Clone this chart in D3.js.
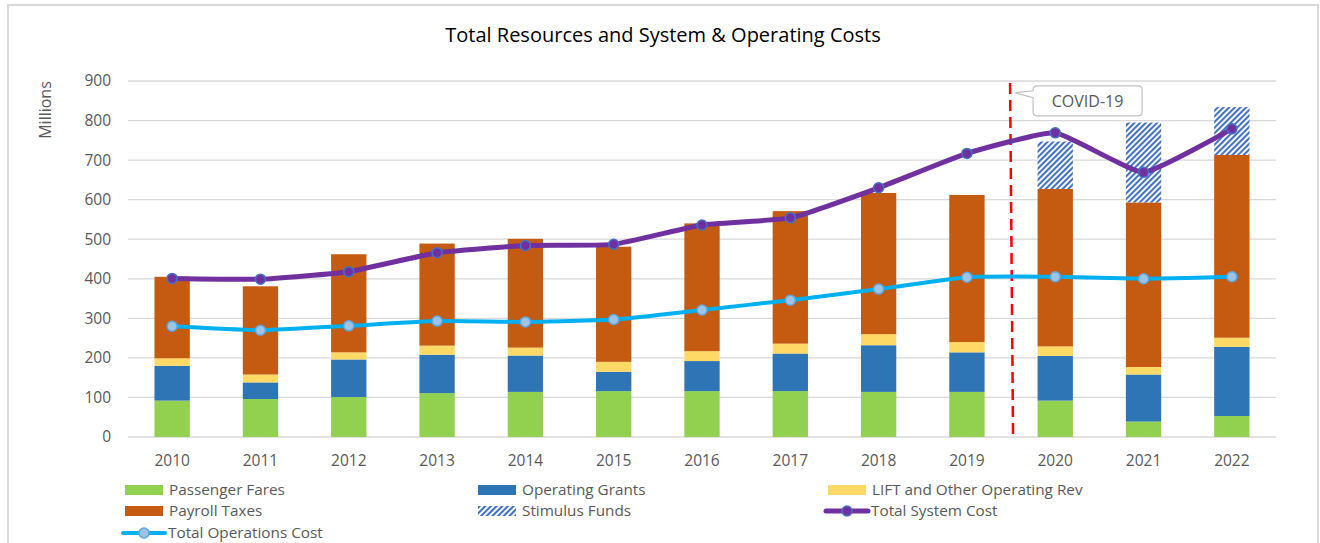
<!DOCTYPE html>
<html>
<head>
<meta charset="utf-8">
<script src="https://cdn.jsdelivr.net/npm/d3@7"></script>
<style>
    body { margin: 0; background: #fff; }
    text { font-family: "Open Sans", Lato, sans-serif; }
</style>
</head>
<body>
<div id="chart"></div>
<script>
var years = ["2010", "2011", "2012", "2013", "2014", "2015", "2016", "2017", "2018", "2019", "2020", "2021", "2022"];
var passengerFares = [92, 96, 101, 111, 114, 116, 116, 116, 114, 114, 92, 39, 53];
var operatingGrants = [88, 42, 95, 97, 92, 49, 76, 95, 118, 100, 113, 119, 175];
var liftOther = [19, 20, 18, 23, 20, 25, 25, 25, 28, 26, 24, 19, 23];
var payrollTaxes = [206, 223, 248, 258, 275, 291, 323, 335, 357, 372, 398, 416, 462];
var stimulusFunds = [0, 0, 0, 0, 0, 0, 0, 0, 0, 0, 120, 202, 121];
var totalSystemCost = [401, 399, 418, 466, 484, 487, 536, 554, 630, 717, 769, 669, 779];
var totalOperationsCost = [280, 270, 281, 293, 291, 297, 321, 346, 374, 404, 405, 400, 405];
var yTicks = [0, 100, 200, 300, 400, 500, 600, 700, 800, 900];

var svgWidth = 1320;
var svgHeight = 543;

var svg = d3.select("#chart")
    .append("svg")
    .attr("width", svgWidth)
    .attr("height", svgHeight);

var defs = svg.append("defs");
var pattern = defs.append("pattern")
    .attr("id", "stimulus")
    .attr("patternUnits", "userSpaceOnUse")
    .attr("width", 4)
    .attr("height", 4)
    .attr("patternTransform", "rotate(45)");
pattern.append("rect")
    .attr("width", 4)
    .attr("height", 4)
    .attr("fill", "#fff");
pattern.append("rect")
    .attr("width", 2.1)
    .attr("height", 4)
    .attr("fill", "#4472C4");

// chart frame
svg.append("rect")
    .attr("x", 8)
    .attr("y", 5)
    .attr("width", 1310)
    .attr("height", 560)
    .attr("fill", "#fff")
    .attr("stroke", "#D9D9D9")
    .attr("stroke-width", 2);

svg.append("text")
    .attr("x", 663)
    .attr("y", 42)
    .attr("text-anchor", "middle")
    .attr("font-size", 20)
    .attr("fill", "#000")
    .text("Total Resources and System & Operating Costs");

var x = d3.scaleBand()
    .domain(years)
    .range([128, 1276])
    .paddingInner(0.6)
    .paddingOuter(0.3);

var y = d3.scaleLinear()
    .domain([0, 900])
    .range([437, 81]);

// gridlines
svg.append("g")
    .selectAll("line")
    .data(yTicks)
    .enter()
    .append("line")
    .attr("x1", 128)
    .attr("x2", 1276)
    .attr("y1", d => y(d))
    .attr("y2", d => y(d))
    .attr("stroke", "#D9D9D9")
    .attr("stroke-width", 1.3);

var leftAxis = d3.axisLeft(y).tickValues(yTicks).tickSize(0).tickPadding(0);
var yAxis = svg.append("g")
    .attr("transform", "translate(111, 0)")
    .call(leftAxis);
yAxis.select(".domain").remove();
yAxis.selectAll("text")
    .attr("font-size", 15.5)
    .attr("fill", "#595959")
    .attr("font-family", "'Open Sans', sans-serif");

var bottomAxis = d3.axisBottom(x).tickSize(0).tickPadding(0);
var xAxis = svg.append("g")
    .attr("transform", "translate(0, 455)")
    .call(bottomAxis);
xAxis.select(".domain").remove();
xAxis.selectAll("text")
    .attr("font-size", 15.5)
    .attr("fill", "#595959")
    .attr("font-family", "'Open Sans', sans-serif");

svg.append("text")
    .attr("transform", "translate(51, 110) rotate(-90)")
    .attr("text-anchor", "middle")
    .attr("font-size", 16)
    .attr("fill", "#595959")
    .text("Millions");

// stacked bars
var keys = ["fares", "grants", "lift", "payroll", "stimulus"];
var colors = {
    fares: "#92D050",
    grants: "#2E75B6",
    lift: "#FFD966",
    payroll: "#C55A11",
    stimulus: "url(#stimulus)"
};
var table = years.map((yr, i) => ({
    year: yr,
    fares: passengerFares[i],
    grants: operatingGrants[i],
    lift: liftOther[i],
    payroll: payrollTaxes[i],
    stimulus: stimulusFunds[i]
}));
var stacked = d3.stack().keys(keys)(table);

svg.append("g")
    .selectAll("g")
    .data(stacked)
    .enter()
    .append("g")
    .attr("fill", d => colors[d.key])
    .selectAll("rect")
    .data(d => d.filter(p => p[1] > p[0]))
    .enter()
    .append("rect")
    .attr("x", d => x(d.data.year))
    .attr("width", x.bandwidth())
    .attr("y", d => y(d[1]))
    .attr("height", d => y(d[0]) - y(d[1]));

// covid marker
var covidX = x("2019") + x.bandwidth() / 2 + x.step() / 2;
svg.append("line")
    .attr("x1", covidX - 1)
    .attr("x2", covidX + 2)
    .attr("y1", y(895))
    .attr("y2", y(-3))
    .attr("stroke", "#FF0000")
    .attr("stroke-width", 2.5)
    .attr("stroke-dasharray", "11,6");

var bx = covidX + 22, by = y(850) - 15, bw = 109, bh = 30, r = 4;
var calloutPath = d3.path();
calloutPath.moveTo(bx + r, by);
calloutPath.lineTo(bx + bw - r, by);
calloutPath.quadraticCurveTo(bx + bw, by, bx + bw, by + r);
calloutPath.lineTo(bx + bw, by + bh - r);
calloutPath.quadraticCurveTo(bx + bw, by + bh, bx + bw - r, by + bh);
calloutPath.lineTo(bx + r, by + bh);
calloutPath.quadraticCurveTo(bx, by + bh, bx, by + bh - r);
calloutPath.lineTo(bx, by + 12);
calloutPath.lineTo(covidX + 4, by + 7);
calloutPath.lineTo(bx, by + 5);
calloutPath.lineTo(bx, by + r);
calloutPath.quadraticCurveTo(bx, by, bx + r, by);
calloutPath.closePath();
svg.append("path")
    .attr("d", calloutPath.toString())
    .attr("fill", "#fff")
    .attr("stroke", "#BFBFBF")
    .attr("stroke-width", 1.2);
svg.append("text")
    .attr("x", bx + bw / 2)
    .attr("y", by + bh / 2 + 6)
    .attr("text-anchor", "middle")
    .attr("font-size", 16)
    .attr("fill", "#595959")
    .text("COVID-19");

// lines
var cx = (d, i) => x(years[i]) + x.bandwidth() / 2;
var lineGen = d3.line()
    .x(cx)
    .y(d => y(d))
    .curve(d3.curveCardinal.tension(0.6));

function drawSeries(values, lineColor, width, markerFill, markerStroke) 
{
    svg.append("path")
        .datum(values)
        .attr("d", lineGen)
        .attr("fill", "none")
        .attr("stroke", lineColor)
        .attr("stroke-width", width)
        .attr("stroke-linejoin", "round");
    svg.append("g")
        .selectAll("circle")
        .data(values)
        .enter()
        .append("circle")
        .attr("cx", cx)
        .attr("cy", d => y(d))
        .attr("r", 5)
        .attr("fill", markerFill)
        .attr("stroke", markerStroke)
        .attr("stroke-width", 1.5);
}

drawSeries(totalOperationsCost, "#00B0F0", 4, "#9DC3E6", "#5BA7E6");
drawSeries(totalSystemCost, "#7030A0", 5, "#7030A0", "#4472C4");

// legend
var legendItems = [
    { label: "Passenger Fares", kind: "rect", fill: "#92D050", lx: 125, ly: 490 },
    { label: "Operating Grants", kind: "rect", fill: "#2E75B6", lx: 478, ly: 490 },
    { label: "LIFT and Other Operating Rev", kind: "rect", fill: "#FFD966", lx: 828, ly: 490 },
    { label: "Payroll Taxes", kind: "rect", fill: "#C55A11", lx: 125, ly: 511 },
    { label: "Stimulus Funds", kind: "rect", fill: "url(#stimulus)", lx: 478, ly: 511 },
    { label: "Total System Cost", kind: "line", fill: "#7030A0", marker: "#7030A0", mstroke: "#4472C4", w: 5, lx: 828, ly: 511 },
    { label: "Total Operations Cost", kind: "line", fill: "#00B0F0", marker: "#9DC3E6", mstroke: "#5BA7E6", w: 4, lx: 125, ly: 533 }
];

var legend = svg.append("g");
legendItems.forEach(item => 
{
    var g = legend.append("g");
    if (item.kind === "rect") 
    {
        g.append("rect")
            .attr("x", item.lx)
            .attr("y", item.ly - 5)
            .attr("width", 38)
            .attr("height", 10)
            .attr("fill", item.fill);
        g.append("text")
            .attr("x", item.lx + 44)
            .attr("y", item.ly + 5)
            .attr("font-size", 15.3)
            .attr("fill", "#595959")
            .text(item.label);
    }
    else 
    {
        g.append("line")
            .attr("x1", item.lx - 2)
            .attr("x2", item.lx + 40)
            .attr("y1", item.ly)
            .attr("y2", item.ly)
            .attr("stroke", item.fill)
            .attr("stroke-width", item.w)
            .attr("stroke-linecap", "round");
        g.append("circle")
            .attr("cx", item.lx + 19)
            .attr("cy", item.ly)
            .attr("r", 5)
            .attr("fill", item.marker)
            .attr("stroke", item.mstroke)
            .attr("stroke-width", 1.5);
        g.append("text")
            .attr("x", item.lx + 43)
            .attr("y", item.ly + 5)
            .attr("font-size", 15.3)
            .attr("fill", "#595959")
            .text(item.label);
    }
});
</script>
</body>
</html>
